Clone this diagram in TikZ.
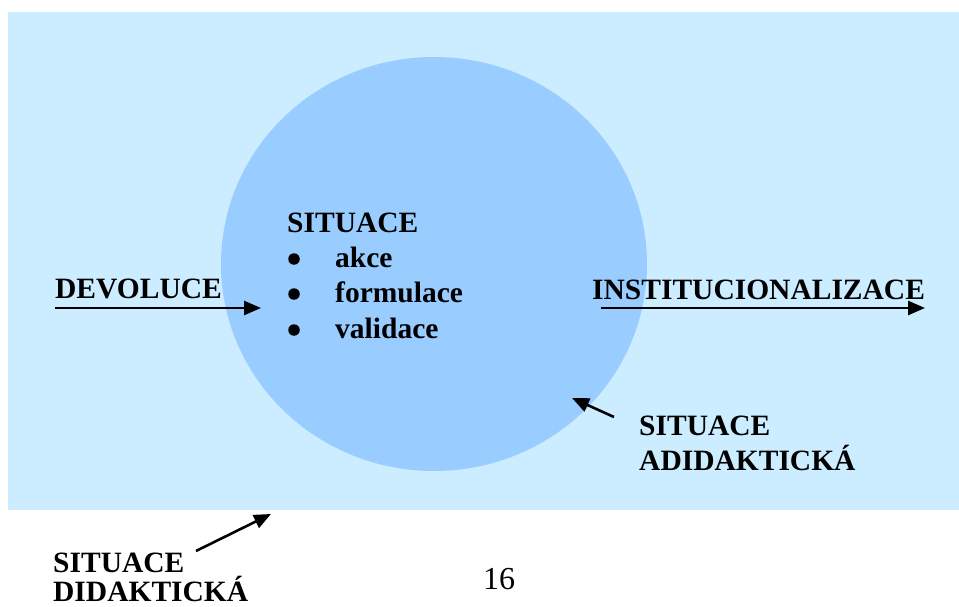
\documentclass[tikz,border=0pt]{standalone}
\usepackage{fontspec}
\setmainfont{Liberation Serif}
\usetikzlibrary{arrows.meta,shapes.geometric}
\definecolor{bglight}{HTML}{CCECFF}
\definecolor{circblue}{HTML}{99CCFF}
\begin{document}
\begin{tikzpicture}[x=1pt,y=-1pt,
 lbl/.style={anchor=base west,inner sep=0pt,font=\fontsize{29.5}{35}\selectfont\bfseries},
 arr/.style={line width=2.6pt,-{Triangle[length=17pt,width=14pt]}},
 dotmark/.style={circle,fill=black,inner sep=0pt,minimum size=11.5pt}]
\useasboundingbox (0,0) rectangle (959,607);
\node[fill=bglight, minimum width=951pt, minimum height=498pt, inner sep=0pt, anchor=north west] (bg) at (8,12) {};
\node[ellipse, fill=circblue, minimum width=426pt, minimum height=414pt, inner sep=0pt] (circ) at (434,264) {};
% inner list
\node[lbl] (sit) at (287,232) {SITUACE};
\node[dotmark] (b1) at (294,259) {};
\node[dotmark] (b2) at (294,294) {};
\node[dotmark] (b3) at (294,330) {};
\node[lbl] (akce) at (335,267) {akce};
\node[lbl] (form) at (335,302) {formulace};
\node[lbl] (val) at (335,338) {validace};
% devoluce
\node[lbl] (dev) at (55,298) {DEVOLUCE};
\coordinate (devs) at (55,308);
\coordinate (deve) at (261,308);
\draw[arr] (devs) -- (deve);
% institucionalizace
\node[lbl] (inst) at (592,299) {INSTITUCIONALIZACE};
\coordinate (insts) at (601,308);
\coordinate (inste) at (925,308);
\draw[arr] (insts) -- (inste);
% situace adidakticka
\node[lbl] (adi1) at (639,435) {SITUACE};
\node[lbl] (adi2) at (639,470) {ADIDAKTICKÁ};
\coordinate (adis) at (614,417);
\coordinate (adie) at (572,398);
\draw[arr] (adis) -- (adie);
% situace didakticka
\node[lbl] (did1) at (53,572) {SITUACE};
\node[lbl] (did2) at (53,601) {DIDAKTICKÁ};
\coordinate (dids) at (196,551);
\coordinate (dide) at (271,514);
\draw[arr] (dids) -- (dide);
% page number
\node[anchor=base west,inner sep=0pt,font=\fontsize{32}{38}\selectfont] (pg) at (483,589) {16};
\end{tikzpicture}
\end{document}
